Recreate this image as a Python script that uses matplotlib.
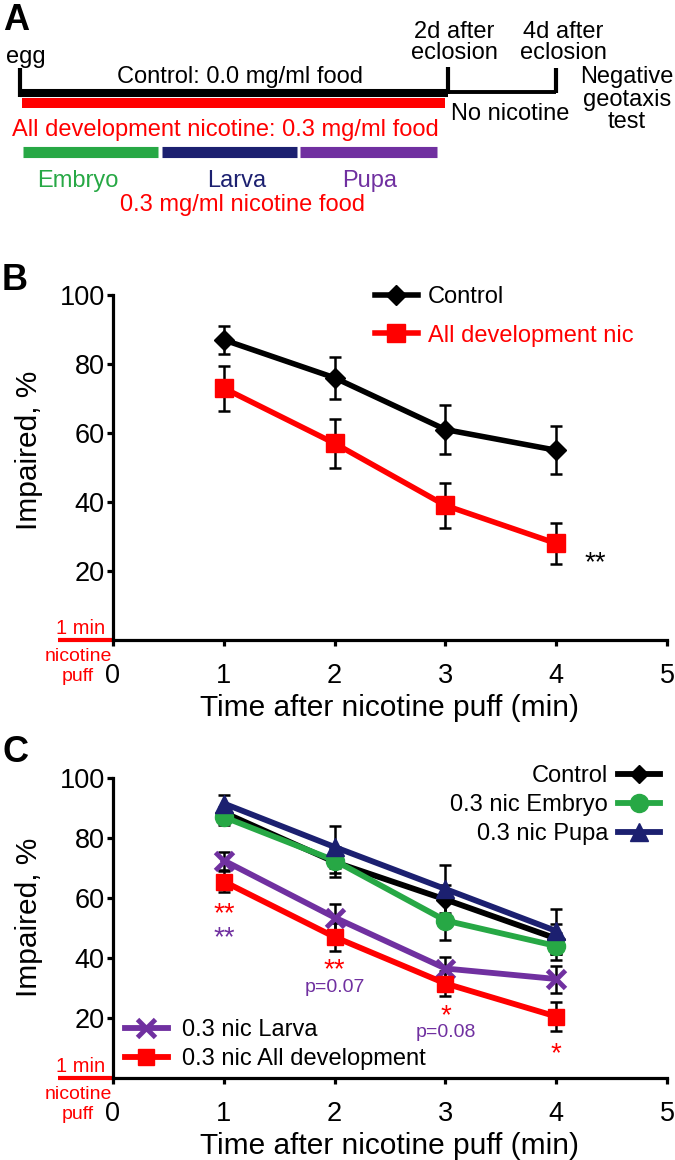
import matplotlib
matplotlib.use('Agg')
import matplotlib.pyplot as plt

plt.rcParams['font.family'] = ['Liberation Sans', 'DejaVu Sans']

# ---- data ----
time = [1, 2, 3, 4]

# panel B
b_control = [87, 76, 61, 55]
b_control_err = [4, 6, 7, 7]
b_alldev = [73, 57, 39, 28]
b_alldev_err = [6.5, 7, 6.5, 6]

# panel C
c_control = [88.5, 72, 59.5, 46.5]
c_control_err = [2, 5, 5, 5]
c_embryo = [87, 72.5, 52.5, 44]
c_embryo_err = [2.5, 4, 6.5, 4.5]
c_pupa = [91.5, 77, 63, 49]
c_pupa_err = [3, 7, 8, 7.5]
c_larva = [72.5, 53.5, 36.5, 33]
c_larva_err = [3, 4.5, 4, 4.5]
c_alldev = [65.5, 47, 31.5, 20.5]
c_alldev_err = [3.6, 4.8, 4.2, 4.8]

# panel A stages
stages = ['Embryo', 'Larva', 'Pupa']

RED = '#ff0000'
GREEN = '#27a845'
NAVY = '#1c2070'
PURPLE = '#7030a0'
FS = 17      # panel A / legend text
TFS = 19.5   # tick labels
LFS = 21.5   # axis labels
SFS = 20     # asterisks

W, H = 675, 1160
fig = plt.figure(figsize=(W / 100, H / 100), dpi=100)


def box(x0, y0, x1, y1):
    # pixel box (top-left origin) -> figure fraction
    return [x0 / W, 1 - y1 / H, (x1 - x0) / W, (y1 - y0) / H]


'''
----------------------------> PANEL A (timeline)
'''
axa = fig.add_axes(box(0, 0, W, 220))
axa.set_xlim(0, W)
axa.set_ylim(220, 0)
axa.axis('off')

axa.text(3, 20, 'A', fontsize=26, fontweight='bold', va='center', ha='left')
axa.plot([19.5, 448], [93, 93], color='black', lw=5.8, solid_capstyle='butt')
axa.plot([448, 556], [92, 92], color='black', lw=2.8, solid_capstyle='butt')
for x, y0, y1 in [(19.5, 68, 97), (448, 67, 94), (556, 68, 93)]:
    axa.plot([x, x], [y0, y1], color='black', lw=3, solid_capstyle='butt')
axa.plot([21.6, 445], [103, 103], color=RED, lw=7.2, solid_capstyle='butt')

stage_cols = [GREEN, NAVY, PURPLE]
stage_x = [(22.7, 158), (162, 297), (300, 437)]
stage_lab_x = [78, 237, 370]
for name, col, (x0, x1), lx in zip(stages, stage_cols, stage_x, stage_lab_x):
    axa.plot([x0, x1], [152, 152], color=col, lw=8, solid_capstyle='butt')
    axa.text(lx, 187, name, color=col, fontsize=FS, ha='center', va='baseline')

axa.text(26, 63, 'egg', fontsize=FS, ha='center', va='baseline')
axa.text(240, 83, 'Control: 0.0 mg/ml food', fontsize=FS, ha='center', va='baseline')
axa.text(454, 38, '2d after', fontsize=FS, ha='center', va='baseline')
axa.text(454, 59, 'eclosion', fontsize=FS, ha='center', va='baseline')
axa.text(563, 38, '4d after', fontsize=FS, ha='center', va='baseline')
axa.text(563, 59, 'eclosion', fontsize=FS, ha='center', va='baseline')
axa.text(627, 83, 'Negative', fontsize=FS, ha='center', va='baseline')
axa.text(627, 106, 'geotaxis', fontsize=FS, ha='center', va='baseline')
axa.text(627, 128, 'test', fontsize=FS, ha='center', va='baseline')
axa.text(510, 120, 'No nicotine', fontsize=FS, ha='center', va='baseline')
axa.text(225, 136, 'All development nicotine: 0.3 mg/ml food', color=RED,
         fontsize=FS, ha='center', va='baseline')
axa.text(242, 211, '0.3 mg/ml nicotine food', color=RED, fontsize=FS,
         ha='center', va='baseline')


def style_axis(ax, ylab_y):
    ax.set_xlim(0, 5)
    ax.set_ylim(0, 100)
    ax.spines['top'].set_visible(False)
    ax.spines['right'].set_visible(False)
    ax.spines['left'].set_linewidth(2.3)
    ax.spines['bottom'].set_linewidth(2.3)
    ax.set_xticks([0, 1, 2, 3, 4, 5])
    ax.set_yticks([20, 40, 60, 80, 100])
    ax.tick_params(axis='y', length=4.5, width=2.3, pad=1.5, labelsize=TFS)
    ax.tick_params(axis='x', length=4, width=2.3, pad=12.5, labelsize=TFS)
    ax.set_xlabel('Time after nicotine puff (min)', fontsize=LFS, labelpad=4)
    ax.set_ylabel('Impaired, %', fontsize=LFS)
    ax.yaxis.set_label_coords(-0.127, ylab_y)
    # the 1 min nicotine puff marker left of zero
    ax.plot([-0.5, 0], [0, 0], color=RED, lw=3, clip_on=False, solid_capstyle='butt')
    ax.annotate('1 min', xy=(-0.29, 0), xytext=(0, 8.5), textcoords='offset points',
                color=RED, fontsize=14.5, ha='center', va='center', annotation_clip=False)
    ax.annotate('nicotine', xy=(-0.31, 0), xytext=(0, -12), textcoords='offset points',
                color=RED, fontsize=14, ha='center', va='center', annotation_clip=False)
    ax.annotate('puff', xy=(-0.32, 0), xytext=(0, -26.5), textcoords='offset points',
                color=RED, fontsize=14, ha='center', va='center', annotation_clip=False)


'''
----------------------------> PANEL B
'''
axb = fig.add_axes(box(113, 295, 667, 640))
style_axis(axb, 0.55)
fig.text(2 / W, 1 - 280 / H, 'B', fontsize=26, fontweight='bold', va='center', ha='left')

axb.errorbar(time, b_control, yerr=b_control_err, fmt='none', ecolor='black',
             elinewidth=1.8, capsize=4.5, capthick=1.8, zorder=3)
axb.errorbar(time, b_alldev, yerr=b_alldev_err, fmt='none', ecolor='black',
             elinewidth=1.8, capsize=4.5, capthick=1.8, zorder=3)
axb.plot(time, b_control, color='black', lw=4, marker='D', markersize=10,
         label='Control', zorder=4, clip_on=False)
axb.plot(time, b_alldev, color=RED, lw=4, marker='s', markersize=13,
         label='All development nic', zorder=4, clip_on=False)
axb.text(4.26, 22.4, '**', fontsize=SFS, ha='left', va='center')

axb.legend(loc='upper left', bbox_to_anchor=(375 / W, 1 - 286 / H),
           bbox_transform=fig.transFigure, frameon=False, borderpad=0,
           fontsize=FS, handlelength=1.8, handletextpad=0.45, labelspacing=0.7,
           labelcolor='linecolor', borderaxespad=0)

'''
----------------------------> PANEL C
'''
axc = fig.add_axes(box(113, 778, 667, 1078))
style_axis(axc, 0.535)
fig.text(2 / W, 1 - 752 / H, 'C', fontsize=26, fontweight='bold', va='center', ha='left')

series = [
    (c_control, c_control_err, 'black', 'D', 9, 'Control'),
    (c_embryo, c_embryo_err, GREEN, 'o', 13, '0.3 nic Embryo'),
    (c_pupa, c_pupa_err, NAVY, '^', 13, '0.3 nic Pupa'),
    (c_larva, c_larva_err, PURPLE, 'x', 13, '0.3 nic Larva'),
    (c_alldev, c_alldev_err, RED, 's', 11.5, '0.3 nic All development'),
]
lines = {}
for vals, err, col, mk, ms, lab in series:
    axc.errorbar(time, vals, yerr=err, fmt='none', ecolor='black',
                 elinewidth=1.8, capsize=4, capthick=1.8, zorder=3)
for vals, err, col, mk, ms, lab in series:
    ln, = axc.plot(time, vals, color=col, lw=4.2, marker=mk, markersize=ms,
                   markeredgewidth=3.5 if mk == 'x' else 1, label=lab, zorder=4,
                   clip_on=False)
    lines[lab] = ln

upper = [lines['Control'], lines['0.3 nic Embryo'], lines['0.3 nic Pupa']]
lower = [lines['0.3 nic Larva'], lines['0.3 nic All development']]
leg1 = axc.legend(handles=upper, loc='upper right', bbox_to_anchor=(660 / W, 1 - 765 / H),
                  bbox_transform=fig.transFigure, frameon=False, borderpad=0,
                  fontsize=FS, handlelength=1.8, handletextpad=0.4, labelspacing=0.3,
                  markerfirst=False, borderaxespad=0)
axc.add_artist(leg1)
axc.legend(handles=lower, loc='upper left', bbox_to_anchor=(125 / W, 1 - 1019 / H),
           bbox_transform=fig.transFigure, frameon=False, borderpad=0,
           fontsize=FS, handlelength=1.8, handletextpad=0.6, labelspacing=0.3,
           borderaxespad=0)

axc.text(1, 54.5, '**', color=RED, fontsize=SFS, ha='center', va='center')
axc.text(1, 46.7, '**', color=PURPLE, fontsize=SFS, ha='center', va='center')
axc.text(2, 35.9, '**', color=RED, fontsize=SFS, ha='center', va='center')
axc.text(2, 30, 'p=0.07', color=PURPLE, fontsize=14, ha='center', va='center')
axc.text(3, 20.7, '*', color=RED, fontsize=SFS, ha='center', va='center')
axc.text(3, 15.3, 'p=0.08', color=PURPLE, fontsize=14, ha='center', va='center')
axc.text(4, 8, '*', color=RED, fontsize=SFS, ha='center', va='center')

plt.savefig('out.png', dpi=100)
